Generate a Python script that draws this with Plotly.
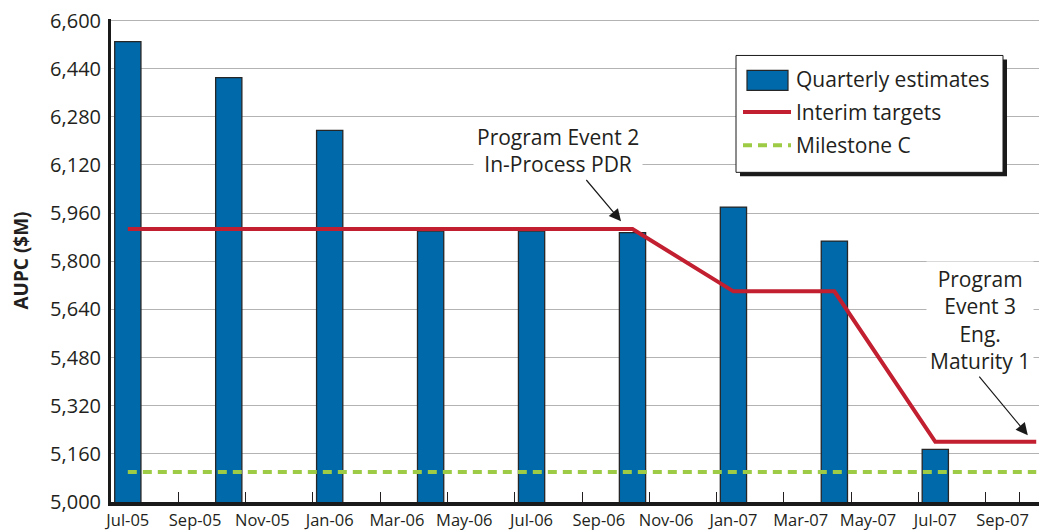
import plotly.graph_objects as go
import pandas as pd

# Axis categories (monthly) and tick labels
months = [d.strftime("%b-%y") for d in pd.date_range("2005-07-01", "2007-10-01", freq="MS")]
tick_labels = ["Jul-05", "Sep-05", "Nov-05", "Jan-06", "Mar-06", "May-06", "Jul-06",
               "Sep-06", "Nov-06", "Jan-07", "Mar-07", "May-07", "Jul-07", "Sep-07"]
y_ticks = [5000, 5160, 5320, 5480, 5640, 5800, 5960, 6120, 6280, 6440, 6600]

# Quarterly estimates (bars)
bar_months = ["Jul-05", "Oct-05", "Jan-06", "Apr-06", "Jul-06", "Oct-06", "Jan-07", "Apr-07", "Jul-07"]
bar_values = [6530, 6410, 6235, 5900, 5900, 5895, 5980, 5867, 5175]

# Interim targets (line)
target_months = ["Jul-05", "Oct-06", "Jan-07", "Apr-07", "Jul-07", "Oct-07"]
target_values = [5907, 5907, 5700, 5700, 5200, 5200]

# Milestone C (dashed line)
milestone_months = ["Jul-05", "Oct-07"]
milestone_values = [5100, 5100]

TEXT = "#231f20"
FONT = "Open Sans"
BLUE = "#0069aa"

fig = go.Figure()
fig.add_trace(go.Bar(
    x=bar_months, y=bar_values, name="Quarterly estimates", showlegend=False,
    marker=dict(color=BLUE, line=dict(color="#262626", width=1.3)),
    width=0.78,
))
# legend-only entry for the bars (swatch drawn as a rectangle below)
fig.add_trace(go.Scatter(
    x=[None], y=[None], name="Quarterly estimates", mode="lines", legendgroup="a",
    line=dict(color="rgba(0,0,0,0)", width=1),
))
fig.add_trace(go.Scatter(
    x=target_months, y=target_values, name="Interim targets", mode="lines", legendgroup="b",
    line=dict(color="#c21f30", width=4),
))
fig.add_trace(go.Scatter(
    x=milestone_months, y=milestone_values, name="Milestone C", mode="lines", legendgroup="c",
    line=dict(color="#9dcb45", width=4, dash="9px,6px"),
))

# page body has an 8px margin: figure is offset by 8px in the screenshot
OFF = 8
W, H = 1047 - OFF, 530 - OFF
L, R, T, B = 111 - OFF, 0, 10.5, 28
pw, ph = W - L - R, H - T - B

def px_to_paper(sx, sy):
    return (sx - OFF - L) / pw, (H - B - (sy - OFF)) / ph

# legend shadow and box
sx0, sy0 = px_to_paper(740, 59)
sx1, sy1 = px_to_paper(1007, 176)
fig.add_shape(type="rect", xref="paper", yref="paper", x0=sx0, y0=sy1, x1=sx1, y1=sy0,
              fillcolor="#1a1a1a", line=dict(width=0), layer="above")
bx0, by0 = px_to_paper(736, 55)
bx1, by1 = px_to_paper(1003, 172)
fig.add_shape(type="rect", xref="paper", yref="paper", x0=bx0, y0=by1, x1=bx1, y1=by0,
              fillcolor="white", line=dict(width=1, color="#1a1a1a"), layer="above")
# bar swatch in legend
qx0, qy0 = px_to_paper(747, 70)
qx1, qy1 = px_to_paper(788, 90)
fig.add_shape(type="rect", xref="paper", yref="paper", x0=qx0, y0=qy1, x1=qx1, y1=qy0,
              fillcolor=BLUE, line=dict(width=1.2, color="#262626"), layer="above")

lx, ly = px_to_paper(738, 58)

fig.update_layout(
    width=W, height=H,
    margin=dict(l=L, r=R, t=T, b=B, autoexpand=False),
    paper_bgcolor="white", plot_bgcolor="white",
    font=dict(family=FONT, color=TEXT, size=17),
    showlegend=True,
    legend=dict(x=lx, y=ly, xanchor="left", yanchor="top",
                bgcolor="rgba(0,0,0,0)", borderwidth=0,
                font=dict(size=21, color=TEXT), itemwidth=48,
                traceorder="grouped", tracegroupgap=3),
    xaxis=dict(
        type="category", categoryorder="array", categoryarray=months,
        range=[-0.5, 27.32], automargin=False,
        tickmode="array", tickvals=tick_labels, ticktext=tick_labels,
        tickson="boundaries", ticks="inside", ticklen=10, tickcolor=TEXT, tickwidth=1,
        showgrid=False, showline=True, linecolor="#1a1a1a", linewidth=4,
        tickfont=dict(size=16.5, color=TEXT), tickangle=0,
    ),
    yaxis=dict(
        range=[5000, 6605], tickmode="array", tickvals=y_ticks, automargin=False,
        tickformat=",d", showgrid=True, gridcolor="#b3b3b3", gridwidth=1,
        showline=True, linecolor="#1a1a1a", linewidth=3, zeroline=False,
        ticks="", tickfont=dict(size=20, color=TEXT), ticklabelstandoff=3,
        ticklabeloverflow="allow",
        title=dict(text="<b>AUPC ($M)</b>", font=dict(size=19, color=TEXT), standoff=22),
    ),
    bargap=0.2,
)

# Annotations
fig.add_annotation(x=12.78, y=6168, xref="x", yref="y",
                   text="Program Event 2<br>In-Process PDR", showarrow=False,
                   font=dict(size=21, color=TEXT), bgcolor="white", borderpad=3)
fig.add_annotation(x=14.66, y=5933, xref="x", yref="y", ax=13.59, ay=6075,
                   axref="x", ayref="y", text="", showarrow=True,
                   arrowhead=2, arrowsize=2, arrowwidth=1.2, arrowcolor="#1a1a1a")
fig.add_annotation(x=25.32, y=5604, xref="x", yref="y",
                   text="Program<br>Event 3<br>Eng.<br>Maturity 1", showarrow=False,
                   font=dict(size=21, color=TEXT), bgcolor="white", borderpad=3)
fig.add_annotation(x=26.75, y=5222, xref="x", yref="y", ax=25.27, ay=5422,
                   axref="x", ayref="y", text="", showarrow=True,
                   arrowhead=2, arrowsize=2, arrowwidth=1.2, arrowcolor="#1a1a1a")

fig.write_html("out.html")
